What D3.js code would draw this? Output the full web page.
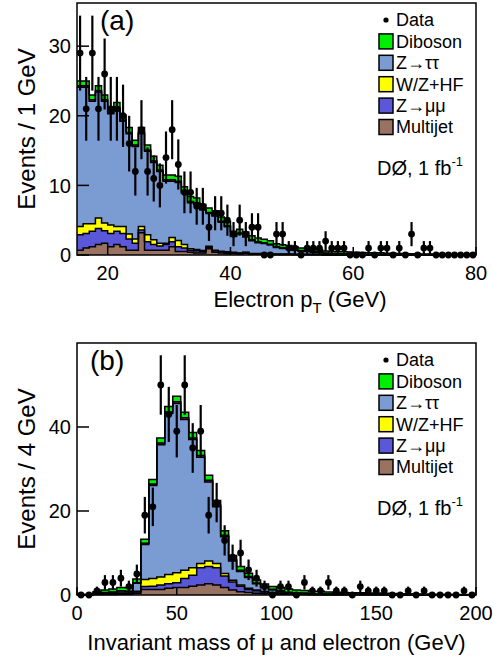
<!DOCTYPE html>
<html><head><meta charset="utf-8">
<script src="https://cdn.jsdelivr.net/npm/d3@7"></script>
<style>body{margin:0;background:#fff}svg{display:block}text{font-family:"Liberation Sans",Arial,Helvetica,sans-serif;fill:#000}</style>
</head><body><svg id="c" width="493" height="656"></svg>
<script>
// ---------- shared ----------
const stackKeys = ["Multijet","Zmumu","WZHF","Ztautau","Other","Diboson"];
const stackColors = {Multijet:"#9a7262",Zmumu:"#5a57d9",WZHF:"#ffff00",Ztautau:"#7b9bd3",Other:"#d000d0",Diboson:"#00ee00"};
const legendLabels = ["Diboson","Z\u2192\u03c4\u03c4","W/Z+HF","Z\u2192\u03bc\u03bc","Multijet"];
const legendKeys = ["Diboson","Ztautau","WZHF","Zmumu","Multijet"];

// ---------- panel (a): electron pT, 1 GeV bins 15-80 ----------
const ptEdges = d3.range(15, 81, 1);
const ptTicks = [20, 40, 60, 80];
const ptYTicks = [0, 10, 20, 30];
const ptData = [29,21,29,21,26,21,21,20,16,12,
  18,12,11,10,14,18,13,9,9,7,
  7,4,6,6,5,3,5,3,4,4,
  0,0,3,3,1,1,0,1,1,1,
  2,1,1,1,0,0,0,1,0,1,
  1,0,1,0,3,0,1,1,0,0,
  0,0,0,0,0];
const ptMultijet = [0.7,1.0,1.2,1.5,1.7,1.2,1.5,1.2,0.7,0.7,
  3.2,0.7,0.7,0.7,0.7,1.2,0.5,0.5,0.4,0.3,
  0.3,0.9,0.4,0.3,0.2,0.2,0.15,0.25,0.1,0.1,
  0.1,0.1,0.05,0.05,0.05,0.05,0.05,0.05,0.05,0.05,
  0,0,0,0,0,0,0,0,0,0,
  0,0,0,0,0,0,0,0,0,0,
  0,0,0,0,0];
const ptZmumu = [2.2,2.1,2.2,2.3,1.8,1.9,1.9,1.9,1.6,1.0,
  0.4,1.2,0.8,0.6,0.8,0.7,0.7,0.5,0.3,0.3,
  0.2,0.2,0.2,0.15,0.15,0.1,0.1,0.1,0.05,0.05,
  0.05,0.05,0.05,0.05,0.05,0.03,0.03,0.03,0.03,0.03,
  0,0,0,0,0,0,0,0,0,0,
  0,0,0,0,0,0,0,0,0,0,
  0,0,0,0,0];
const ptWZHF = [1.2,1.4,1.1,1.5,1.1,1.2,0.7,1.0,0.7,0.6,
  0.5,1.0,0.7,0.4,0.2,0.6,0.9,0.5,0.2,0.2,
  0.15,0.15,0.1,0.1,0.1,0.1,0.05,0.05,0.05,0.05,
  0.05,0.03,0.03,0.03,0.03,0.02,0.02,0.02,0.02,0.02,
  0,0,0,0,0,0,0,0,0,0,
  0,0,0,0,0,0,0,0,0,0,
  0,0,0,0,0];
const ptZtautau = [20.0,19.6,17.6,18.1,17.5,16.0,16.9,15.1,14.4,13.3,
  13.3,12.0,11.1,10.3,8.9,8.1,8.3,7.4,6.6,6.5,
  5.8,4.7,4.9,4.15,3.6,2.25,2.7,2.2,1.85,1.55,
  1.45,1.25,0.95,0.8,0.75,0.6,0.45,0.4,0.3,0.25,
  0.2,0.15,0.12,0.1,0.1,0.08,0.06,0.05,0.05,0.04,
  0.04,0.03,0.03,0.03,0.02,0.02,0.02,0.02,0.01,0.01,
  0.01,0.01,0.01,0.01,0.01];
const ptOther = [0.2,0.2,0.2,0.2,0.2,0.2,0.2,0.2,0.2,0.2,
  0.2,0.2,0.2,0.2,0.2,0.2,0.2,0.2,0.2,0.2,
  0.15,0.15,0.15,0.15,0.15,0.15,0.15,0.15,0.15,0.15,
  0.1,0.1,0.1,0.1,0.1,0.1,0.1,0.1,0.1,0.1,
  0.07,0.07,0.07,0.07,0.07,0.07,0.07,0.07,0.07,0.07,
  0.04,0.04,0.04,0.04,0.04,0.04,0.04,0.04,0.04,0.04,
  0.04,0.04,0.04,0.04,0.04];
const ptDiboson = [0.7,0.7,0.7,0.7,0.7,0.7,0.7,0.7,0.7,0.7,
  0.7,0.7,0.7,0.7,0.7,0.7,0.7,0.7,0.7,0.7,
  0.65,0.65,0.6,0.6,0.6,0.6,0.55,0.55,0.55,0.55,
  0.5,0.5,0.45,0.45,0.4,0.4,0.35,0.35,0.35,0.35,
  0.3,0.3,0.28,0.28,0.25,0.25,0.22,0.22,0.2,0.2,
  0.18,0.18,0.15,0.15,0.12,0.12,0.1,0.1,0.08,0.07,
  0.06,0.05,0.05,0.04,0.04];

// ---------- panel (b): invariant mass, 4 GeV bins 0-200 ----------
const mEdges = d3.range(0, 201, 4);
const mTicks = [0, 50, 100, 150, 200];
const mYTicks = [0, 20, 40];
const mData = [0,0,1,3,3,4,2,5,19,21,
  50,43,39,50,35,39,19,22,13,9,
  10,6,4,2,0,2,2,0,3,1,
  1,3,1,1,0,2,1,1,1,0,
  0,1,0,1,0,0,0,0,1,0];
const mMultijet = [0,0,0.1,0.1,0.1,0.2,0.2,0.4,1.3,1.3,
  1.3,1.6,1.8,1.8,2.1,2.4,2.7,2.4,1.8,1.2,
  0.8,0.6,0.4,0.3,0.2,0.2,0.15,0.1,0.1,0.05,
  0.05,0.05,0.05,0.05,0.05,0.05,0.05,0.05,0.05,0.05,
  0,0,0,0,0,0,0,0,0,0];
const mZmumu = [0,0,0.1,0.1,0.1,0.2,0.2,0.3,0.7,0.8,
  1.1,1.1,1.1,2.1,2.6,4.1,4.1,4.1,2.7,1.9,
  1.3,0.7,0.6,0.4,0.3,0.2,0.15,0.1,0.1,0.05,
  0.05,0.05,0.05,0.05,0.05,0.05,0.05,0.05,0.05,0.05,
  0.05,0.05,0.05,0.05,0,0,0,0,0,0];
const mWZHF = [0,0,0,0.05,0.1,0.1,0.1,0.2,1.7,1.8,
  1.9,2.2,2.4,2.0,1.8,1.0,1.3,1.0,0.6,0.4,
  0.3,0.3,0.2,0.15,0.1,0.1,0.05,0.05,0.05,0.05,
  0.05,0,0,0,0,0,0,0,0,0,
  0,0,0,0,0,0,0,0,0,0];
const mZtautau = [0,0.05,0.15,0.3,0.35,0.45,0.35,1.9,8.3,22.2,
  31.5,38.3,40.3,35.9,30.5,25.3,18.8,13.5,8.75,4.6,
  3.2,2.55,1.45,0.85,0.6,0.35,0.15,0.15,0.1,0.05,
  0.05,0.05,0.05,0.05,0.05,0.05,0.05,0.05,0,0,
  0,0,0,0,0,0,0,0,0,0];
const mOther = [0,0,0.05,0.05,0.05,0.05,0.05,0.1,0.3,0.3,
  0.4,0.4,0.4,0.4,0.4,0.4,0.4,0.4,0.35,0.3,
  0.3,0.25,0.2,0.2,0.15,0.15,0.15,0.1,0.1,0.1,
  0.1,0.1,0.08,0.08,0.08,0.07,0.07,0.06,0.06,0.05,
  0.05,0.05,0.05,0.04,0.04,0.04,0.03,0.03,0.03,0.03];
const mDiboson = [0.05,0.1,0.4,0.6,0.7,0.8,0.8,0.9,1.0,1.1,
  1.2,1.3,1.3,1.3,1.3,1.2,1.2,1.1,1.1,1.0,
  0.9,0.8,0.75,0.7,0.65,0.8,0.75,0.7,0.65,0.6,
  0.6,0.45,0.4,0.35,0.33,0.3,0.28,0.26,0.24,0.22,
  0.2,0.18,0.16,0.15,0.14,0.13,0.12,0.11,0.1,0.1];

const svg = d3.select("#c");

function drawPanel(cfg) {
  const g = svg.append("g");
  const x = d3.scaleLinear().domain(cfg.xDomain).range([cfg.left, cfg.right]);
  const y = d3.scaleLinear().domain(cfg.yDomain).range([cfg.bottom, cfg.top]);
  const n = cfg.data.length;
  const rows = d3.range(n).map(i => {
    const r = {lo: cfg.edges[i], hi: cfg.edges[i+1]};
    stackKeys.forEach(k => r[k] = cfg.comp[k][i]);
    return r;
  });
  const layers = d3.stack().keys(stackKeys)(rows);
  const area = d3.area().curve(d3.curveStepAfter)
    .x(d => x(d.x)).y0(d => y(d.y0)).y1(d => y(d.y1));
  const line = d3.line().curve(d3.curveStepAfter)
    .x(d => x(d.x)).y(d => y(d.y1));
  layers.forEach(L => {
    const pts = L.map((d, i) => ({x: rows[i].lo, y0: d[0], y1: d[1]}));
    const last = L[n-1];
    pts.push({x: rows[n-1].hi, y0: last[0], y1: last[1]});
    g.append("path").attr("d", area(pts)).attr("fill", stackColors[L.key]).attr("stroke", "none");
    L.pts = pts;
  });
  layers.forEach(L => {
    g.append("path").attr("d", line(L.pts)).attr("fill", "none")
      .attr("stroke", "#000").attr("stroke-width", 1.5);
  });
  // data points
  const dp = g.append("g");
  cfg.data.forEach((v, i) => {
    const cx = x((cfg.edges[i] + cfg.edges[i+1]) / 2);
    if (v > 0) {
      const e = Math.sqrt(v);
      dp.append("line").attr("x1", cx).attr("x2", cx)
        .attr("y1", y(v - e)).attr("y2", y(Math.min(v + e, cfg.yDomain[1])))
        .attr("stroke", "#000").attr("stroke-width", 2.2);
    }
    dp.append("circle").attr("cx", cx).attr("cy", y(v)).attr("r", 3.4).attr("fill", "#000");
  });
  // ticks (inward)
  cfg.yTicks.forEach(t => {
    g.append("line").attr("x1", cfg.left).attr("x2", cfg.left + 12)
      .attr("y1", y(t)).attr("y2", y(t)).attr("stroke", "#000").attr("stroke-width", 1.5);
    g.append("text").attr("x", cfg.left - 6).attr("y", y(t)).attr("dy", "0.36em")
      .attr("text-anchor", "end").attr("font-size", 20).text(t);
  });
  cfg.xTicks.forEach(t => {
    g.append("line").attr("x1", x(t)).attr("x2", x(t))
      .attr("y1", cfg.bottom).attr("y2", cfg.bottom - 8).attr("stroke", "#000").attr("stroke-width", 1.5);
    g.append("text").attr("x", x(t)).attr("y", cfg.bottom + 25)
      .attr("text-anchor", "middle").attr("font-size", 20).text(t);
  });
  // frame
  g.append("rect").attr("x", cfg.left).attr("y", cfg.top)
    .attr("width", cfg.right - cfg.left).attr("height", cfg.bottom - cfg.top)
    .attr("fill", "none").attr("stroke", "#000").attr("stroke-width", 1.5);
  // panel label
  g.append("text").attr("x", cfg.labelX).attr("y", cfg.top + 27).attr("font-size", 28).text(cfg.label);
  // y title
  g.append("text").attr("transform", `translate(35,${(cfg.top + cfg.bottom) / 2}) rotate(-90)`)
    .attr("text-anchor", "middle").attr("font-size", 24).text(cfg.yTitle);
  // x title
  const xt = g.append("text").attr("x", cfg.xTitleX).attr("y", cfg.xTitleY)
    .attr("text-anchor", "middle").attr("font-size", 22);
  cfg.xTitle(xt);
  // legend
  const lx = 379, ly = cfg.top + 17, sp = 21.4;
  g.append("circle").attr("cx", lx + 7).attr("cy", ly).attr("r", 2.6).attr("fill", "#000");
  g.append("text").attr("x", lx + 17).attr("y", ly).attr("dy", "0.36em").attr("font-size", 18).text("Data");
  legendKeys.forEach((k, i) => {
    const yy = ly + sp * (i + 1);
    g.append("rect").attr("x", lx).attr("y", yy - 7.5).attr("width", 14).attr("height", 15)
      .attr("fill", stackColors[k]).attr("stroke", "#000").attr("stroke-width", 1.5);
    g.append("text").attr("x", lx + 17).attr("y", yy).attr("dy", "0.36em").attr("font-size", 18).text(legendLabels[i]);
  });
  const dz = g.append("text").attr("x", 377).attr("y", cfg.top + 172).attr("font-size", 20);
  dz.append("tspan").text("D\u00d8, 1 fb");
  dz.append("tspan").attr("font-size", 13).attr("dy", -9).text("-1");
}

drawPanel({
  left: 77, right: 476, top: 3, bottom: 255,
  xDomain: [15, 80], yDomain: [0, 36.2],
  edges: ptEdges, data: ptData,
  comp: {Multijet: ptMultijet, Zmumu: ptZmumu, WZHF: ptWZHF, Ztautau: ptZtautau, Other: ptOther, Diboson: ptDiboson},
  xTicks: ptTicks, yTicks: ptYTicks,
  label: "(a)", labelX: 100,
  yTitle: "Events / 1 GeV",
  xTitleX: 300, xTitleY: 307,
  xTitle: t => { t.append("tspan").text("Electron p");
                 t.append("tspan").attr("font-size", 15).attr("dy", 6).text("T");
                 t.append("tspan").attr("dy", -6).text(" (GeV)"); }
});
drawPanel({
  left: 77, right: 476, top: 343, bottom: 595,
  xDomain: [0, 200], yDomain: [0, 60],
  edges: mEdges, data: mData,
  comp: {Multijet: mMultijet, Zmumu: mZmumu, WZHF: mWZHF, Ztautau: mZtautau, Other: mOther, Diboson: mDiboson},
  xTicks: mTicks, yTicks: mYTicks,
  label: "(b)", labelX: 90,
  yTitle: "Events / 4 GeV",
  xTitleX: 276.5, xTitleY: 650,
  xTitle: t => t.text("Invariant mass of \u03bc and electron (GeV)")
});
</script></body></html>
